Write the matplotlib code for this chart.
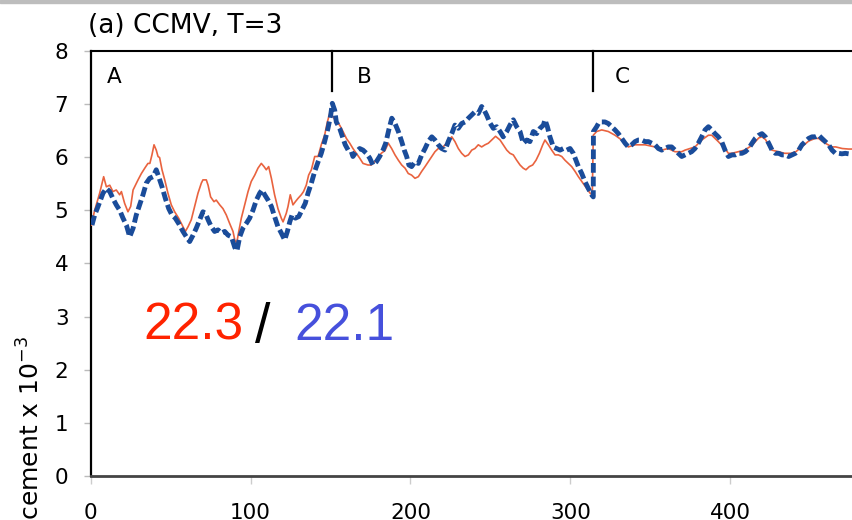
import matplotlib
matplotlib.use("Agg")
import matplotlib.pyplot as plt
from matplotlib.patches import Rectangle

# ---------------- data ----------------
orange_x = [0.4, 2.5, 5.6, 8.1, 9.8, 11.9, 13.9, 16, 18.1, 19.2, 21.2, 23.3, 25, 26.5, 29.6, 31.7,
            33.8, 35.8, 37, 38.3, 39.6, 41, 42.1, 43.1, 44.6, 46.3, 48.3, 50.4, 52.5, 55, 57.7,
            59.2, 60.9, 62.9, 65, 67.1, 69.2, 70.2, 72.3, 73.4, 75, 77.1, 78.5, 80.7, 82.7, 84.8,
            86.9, 89, 90.1, 91.3, 92.6, 94.2, 96.3, 98.4, 100.4, 102.6, 104.6, 106.7, 108.4,
            109.8, 111.3, 113, 115, 117.1, 119.2, 120.3, 122.3, 123.4, 124.8, 126.5, 128, 129.6,
            131.7, 133.1, 134.8, 136.3, 138, 140.1, 142.2, 144.2, 146.3, 148, 149.5, 151.5,
            153.6, 155.7, 157.8, 159.9, 162, 164, 166.1, 168.2, 170.3, 173.4, 175.5, 178.6,
            181.7, 184, 186.1, 188.2, 190.3, 192.4, 194.5, 196.6, 198.6, 200.7, 202.8, 204.9,
            207, 209.1, 211.1, 213.3, 215.3, 217.4, 219.5, 221.6, 223.6, 225.8, 227.8, 229.9,
            232, 234.1, 236.2, 238.3, 240.3, 242.4, 244.5, 246.6, 248.7, 250.8, 253.2, 256, 258,
            260.2, 262.2, 264.3, 266.4, 268.5, 270.5, 272.2, 274.3, 276.4, 278.5, 280.6, 282.7,
            284.1, 286.2, 288.3, 290.4, 292.5, 294.6, 296.6, 298.7, 300.8, 302.9, 305, 307.1,
            310.2, 312.3, 313.7, 314.3, 316.4, 319.6, 323.7, 327.9, 332.1, 336.2, 340.4, 346.7,
            352.9, 357.1, 361.2, 365.4, 369.6, 371.7, 377.9, 382.1, 386.3, 388.4, 392.5, 396.7,
            398.8, 401, 405, 409, 413.6, 417.8, 419.8, 422, 424, 426, 430, 434, 438, 441, 445,
            449, 453, 455.3, 457.3, 460, 463.6, 466, 470, 474, 476]
orange_y = [4.72, 5.0, 5.32, 5.63, 5.44, 5.47, 5.35, 5.38, 5.29, 5.35, 5.13, 4.97, 5.07, 5.38, 5.57, 5.69,
            5.79, 5.88, 5.88, 6.04, 6.23, 6.13, 6.01, 5.99, 5.76, 5.57, 5.32, 5.1, 4.97, 4.85, 4.69,
            4.6, 4.69, 4.82, 5.07, 5.32, 5.51, 5.57, 5.57, 5.47, 5.25, 5.16, 5.19, 5.1, 5.03, 4.91,
            4.75, 4.6, 4.44, 4.38, 4.6, 4.85, 5.1, 5.35, 5.54, 5.66, 5.79, 5.88, 5.82,
            5.76, 5.82, 5.6, 5.29, 5.03, 4.85, 4.78, 4.94, 5.07, 5.29, 5.1, 5.16, 5.22,
            5.29, 5.35, 5.47, 5.66, 5.76, 6.01, 6.01, 6.23, 6.41, 6.66, 6.82, 6.76,
            6.66, 6.6, 6.48, 6.35, 6.26, 6.16, 6.07, 5.98, 5.88, 5.85, 5.85, 5.94,
            6.07, 6.12, 6.26, 6.16, 6.04, 5.94, 5.85, 5.79, 5.69, 5.66, 5.6, 5.63,
            5.73, 5.82, 5.91, 6.01, 6.1, 6.16, 6.16, 6.23, 6.29, 6.38, 6.29, 6.16,
            6.07, 6.01, 6.04, 6.13, 6.16, 6.23, 6.19, 6.23, 6.26, 6.32, 6.39, 6.32, 6.23,
            6.13, 6.07, 6.04, 5.94, 5.85, 5.79, 5.76, 5.82, 5.85, 5.94, 6.07, 6.23,
            6.32, 6.23, 6.13, 6.04, 6.04, 6.01, 5.94, 5.88, 5.82, 5.73, 5.63, 5.54,
            5.41, 5.32, 5.29, 6.41, 6.48, 6.51, 6.48, 6.41, 6.32, 6.19, 6.23, 6.23,
            6.19, 6.13, 6.16, 6.1, 6.1, 6.13, 6.19, 6.32, 6.41, 6.41, 6.29, 6.16,
            6.07, 6.07, 6.1, 6.13, 6.22, 6.36, 6.38, 6.33, 6.22, 6.13, 6.1, 6.07, 6.07, 6.1, 6.2,
            6.3, 6.35, 6.35, 6.3, 6.25, 6.19, 6.19, 6.16, 6.15, 6.15]

blue_x = [0.8, 2.5, 4.6, 7.7, 9.8, 11.9, 13.9, 16, 18.1, 20.2, 22.3, 24.4, 26.5, 28.5, 30.6, 32.7,
          34.8, 36.9, 39, 41, 42.5, 44.6, 46.7, 48.8, 50.8, 52.9, 55, 57.7, 59.8, 61.9, 64, 66,
          68.2, 70.2, 71.8, 73.4, 75.4, 77.5, 79.6, 81.7, 83.8, 85.9, 88, 90.1, 91.5, 93.2, 95.2,
          97.3, 99.4, 101.5, 103.6, 105.7, 107.1, 108.8, 110.9, 113, 115, 117.1, 119.2, 121.3,
          123, 124.5, 125.9, 128, 130.1, 132.1, 134.2, 135.9, 138, 140.1, 142.2, 144.2, 146.3,
          148.4, 150.1, 151.1, 152.6, 153.6, 155.7, 157.8, 159.2, 161, 163, 164, 166.1, 168.2,
          170.3, 172.4, 174.5, 176.5, 178.6, 180.7, 182.8, 184.5, 186.5, 188.3, 190.3, 192.4,
          194.5, 196.1, 197.6, 199, 200.7, 202.8, 204.9, 207, 209.1, 211.1, 213.3, 215.3, 217.4,
          219.5, 221.6, 223.6, 225.8, 227.8, 229.9, 232, 234.1, 236.2, 238.3, 240.3, 242.4,
          244.5, 246.1, 247.6, 249.7, 251.8, 253.9, 256, 258, 260.2, 262.2, 264.3, 266.4, 268.5,
          270.5, 272.7, 274.7, 276.8, 278.9, 281, 283.1, 284.1, 285.6, 287.2, 289.3, 291.4,
          293.5, 295.6, 297.7, 299.8, 301.8, 303.5, 305, 307.1, 309.1, 311.2, 313.3, 314.3,
          314.4, 316.4, 317.5, 319.6, 321.6, 323.7, 325.8, 327.9, 330, 332.1, 334.2, 336.2,
          338.3, 340.4, 342.5, 344.6, 346.7, 348.8, 350.8, 352.9, 355, 357.1, 359.2, 361.2,
          363.3, 365.4, 367.5, 369.6, 371.7, 373.7, 375.8, 377.9, 380, 382.1, 384.2, 386.3,
          388.4, 390.4, 392.5, 394.6, 396.7, 398.8, 401.1, 403.1, 405.2, 407.3, 409.4, 411.5,
          413.6, 415.6, 417.8, 419.8, 421.9, 424, 426.1, 428.2, 430.3, 432.3, 434.4, 436.5,
          438.6, 440.7, 442.8, 444.8, 446.9, 449, 451.1, 453.2, 455.3, 457.3, 459.4, 461.5,
          463.6, 465.7, 467.8, 469.8, 471.9, 474, 476]
blue_y = [4.72, 4.91, 5.07, 5.32, 5.41, 5.35, 5.22, 5.1, 5.0, 4.85, 4.72, 4.5, 4.66, 4.91, 5.1, 5.29,
          5.51, 5.6, 5.63, 5.76, 5.63, 5.44, 5.22, 5.03, 4.91, 4.85, 4.75, 4.6, 4.5, 4.41, 4.53, 4.66,
          4.82, 4.97, 4.94, 4.82, 4.69, 4.6, 4.63, 4.57, 4.6, 4.53, 4.5, 4.3, 4.24, 4.5, 4.66,
          4.75, 4.85, 5.0, 5.19, 5.32, 5.38, 5.29, 5.19, 5.07, 4.88, 4.69, 4.57, 4.44,
          4.6, 4.78, 4.91, 4.85, 4.88, 5.0, 5.13, 5.32, 5.51, 5.73, 5.91, 6.07, 6.29,
          6.54, 6.79, 7.01, 6.88, 6.66, 6.54, 6.35, 6.23, 6.13, 6.1, 6.01, 6.1, 6.16,
          6.13, 6.07, 5.98, 5.85, 5.91, 6.01, 6.13, 6.26, 6.52, 6.73, 6.63, 6.48,
          6.29, 6.13, 6.01, 5.85, 5.82, 5.91, 5.88, 6.04, 6.16, 6.29, 6.38, 6.32, 6.23,
          6.16, 6.13, 6.29, 6.44, 6.6, 6.54, 6.63, 6.66, 6.73, 6.79, 6.85, 6.82,
          6.95, 6.88, 6.79, 6.64, 6.54, 6.57, 6.48, 6.38, 6.48, 6.6, 6.7, 6.57, 6.48,
          6.26, 6.32, 6.29, 6.48, 6.44, 6.54, 6.6, 6.7, 6.57, 6.38, 6.19, 6.16,
          6.13, 6.16, 6.13, 6.16, 6.07, 5.94, 5.82, 5.69, 5.54, 5.41, 5.29, 5.25,
          6.48, 6.57, 6.63, 6.66, 6.66, 6.63, 6.57, 6.51, 6.44, 6.35, 6.26, 6.19,
          6.23, 6.29, 6.32, 6.32, 6.29, 6.29, 6.26, 6.23, 6.16, 6.13, 6.16, 6.19,
          6.19, 6.13, 6.07, 6.01, 6.04, 6.07, 6.1, 6.16, 6.26, 6.38, 6.51, 6.57,
          6.51, 6.44, 6.38, 6.29, 6.13, 6.01, 6.04, 6.04, 6.07, 6.07, 6.1, 6.16,
          6.26, 6.35, 6.41, 6.44, 6.38, 6.26, 6.13, 6.07, 6.07, 6.04, 6.04, 6.01,
          6.04, 6.07, 6.13, 6.23, 6.29, 6.35, 6.38, 6.38, 6.41, 6.35, 6.29, 6.23,
          6.13, 6.07, 6.07, 6.06, 6.07, 6.06, 6.06]

section_bounds = [150.7, 314.3]
section_labels = ["A", "B", "C"]
section_label_x = [10.2, 166.4, 327.9]
x_ticks = [0, 100, 200, 300, 400]
y_ticks = [0, 1, 2, 3, 4, 5, 6, 7, 8]
title_text = "(a) CCMV, T=3"
ylabel_text = "Displacement x 10$^{-3}$"
score_red = "22.3"
score_sep = "/"
score_blue = "22.1"

# ---------------- figure ----------------
W, H = 852, 520
fig = plt.figure(figsize=(W / 100, H / 100), dpi=100)
plt.rcParams['font.family'] = ['DejaVu Sans']

left_px, right_px, top_px, bot_px = 90.7, 852, 50.7, 476
ax = fig.add_axes([left_px / W, 1 - bot_px / H, (right_px - left_px) / W, (bot_px - top_px) / H])
ax.set_xlim(0, (right_px - left_px) / 1.599)
ax.set_ylim(0, 8)

ax.plot(orange_x, orange_y, color='#E9633F', lw=1.2, zorder=3)
ax.plot(blue_x, blue_y, color='#1A4C9A', lw=3.5, ls=(0, (2.0, 0.8)),
        dash_capstyle='butt', zorder=4)

for xb in section_bounds:
    ax.plot([xb, xb], [8, 7.25], color='black', lw=1.6, zorder=5, clip_on=False)
for lab, lx in zip(section_labels, section_label_x):
    ax.text(lx, 7.39, lab, fontsize=15.5, va='baseline', ha='left', color='black',
            family=['DejaVu Sans'])

ax.set_xticks(x_ticks)
ax.set_yticks(y_ticks)
ax.tick_params(axis='y', direction='out', length=5, width=1, color='#BBBBBB',
               pad=11, labelsize=15.5, labelcolor='black')
ax.tick_params(axis='x', direction='out', length=6, width=1, color='#CCCCCC',
               pad=13.5, labelsize=15.5, labelcolor='black')

ax.spines['right'].set_visible(False)
ax.spines['top'].set_color('black')
ax.spines['top'].set_linewidth(1.5)
ax.spines['left'].set_color('black')
ax.spines['left'].set_linewidth(1.6)
ax.spines['bottom'].set_color('#444444')
ax.spines['bottom'].set_linewidth(2.0)

# top grey strip
fig.patches.append(Rectangle((0, 1 - 3 / H), 1, 3 / H, transform=fig.transFigure,
                             color='#BDBDBD', zorder=10))

fig.text(88 / W, 1 - 33 / H, title_text, fontsize=19, ha='left', va='baseline',
         family=['DejaVu Sans'])

fig.text(47 / W, 1 - 336 / H, ylabel_text, fontsize=18, rotation=90,
         ha='right', va='top', family=['DejaVu Sans'])

fig.text(143 / W, 1 - 340 / H, score_red, fontsize=37, color='#FF2300',
         ha='left', va='baseline', family=['Liberation Sans'])
fig.text(255 / W, 1 - 342 / H, score_sep, fontsize=40, color='black',
         ha='left', va='baseline', family=['Liberation Sans'])
fig.text(294 / W, 1 - 340 / H, score_blue, fontsize=37, color='#4650DC',
         ha='left', va='baseline', family=['Liberation Sans'])

fig.savefig('out.png', dpi=100)
